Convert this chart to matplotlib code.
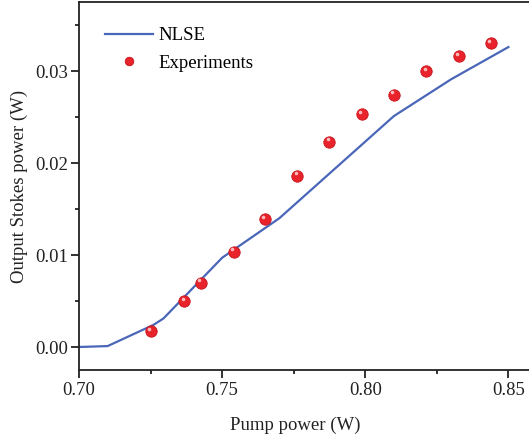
import matplotlib
matplotlib.use("Agg")
import matplotlib.pyplot as plt
import matplotlib.transforms as mtransforms
from matplotlib.ticker import MultipleLocator, FormatStrFormatter

plt.rcParams['font.family'] = ['Liberation Serif', 'DejaVu Serif']

# NLSE simulation curve
nlse_x = [0.700, 0.710, 0.726, 0.7295, 0.750, 0.770, 0.810, 0.830, 0.850]
nlse_y = [0.0000, 0.0001, 0.0024, 0.0031, 0.0097, 0.0140, 0.0251, 0.0291, 0.0326]

# experimental points
exp_x = [0.7252, 0.7368, 0.7425, 0.7540, 0.7650, 0.7763, 0.7875,
         0.7988, 0.8101, 0.8213, 0.8326, 0.8438]
exp_y = [0.0017, 0.0050, 0.0070, 0.01035, 0.0139, 0.0186, 0.0223,
         0.0253, 0.0274, 0.0300, 0.0316, 0.0330]

W, H = 529, 438
fig = plt.figure(figsize=(W / 100, H / 100), dpi=100)
# right spine falls just outside the picture, as in the original crop
ax = fig.add_axes([79 / W, (H - 370) / H, (537 - 79) / W, 368 / H])

line_color = '#4a66b8'
red = '#e8232b'

ax.plot(nlse_x, nlse_y, color=line_color, lw=1.6, label='NLSE', zorder=2)
ax.plot(exp_x, exp_y, 'o', ms=8.2, mfc=red, mec='#c8141c', mew=0.6,
        label='Experiments', zorder=3)
# little highlight to get the glossy ball look
hl = mtransforms.offset_copy(ax.transData, fig=fig, x=-1.2, y=1.8, units='points')
ax.plot(exp_x, exp_y, 'o', ms=2.6, mfc='#ffc8c8', mec='none', alpha=0.9,
        transform=hl, zorder=4)

ax.set_xlim(0.70, 0.86)
ax.set_ylim(-0.0025, 0.0375)
ax.xaxis.set_major_locator(MultipleLocator(0.05))
ax.xaxis.set_minor_locator(MultipleLocator(0.025))
ax.yaxis.set_major_locator(MultipleLocator(0.01))
ax.yaxis.set_minor_locator(MultipleLocator(0.005))
ax.xaxis.set_major_formatter(FormatStrFormatter('%.2f'))
ax.yaxis.set_major_formatter(FormatStrFormatter('%.2f'))

ax.tick_params(which='both', direction='out', width=1.3, labelsize=13.5, colors='#222222')
ax.tick_params(which='major', length=5.5)
ax.tick_params(which='minor', length=3)
ax.tick_params(axis='x', pad=3)
ax.tick_params(axis='y', pad=2)
for s in ax.spines.values():
    s.set_linewidth(1.3)
    s.set_color('#222222')

ax.set_xlabel('Pump power (W)', fontsize=13.5, color='#222222')
ax.set_ylabel('Output Stokes power (W)', fontsize=13.5, color='#222222')
ax.xaxis.set_label_coords((295 - 79) / (537 - 79), -(430 - 370) / 368, transform=ax.transAxes)
ax.yaxis.set_label_coords(-(79 - 28) / (537 - 79), 0.5, transform=ax.transAxes)
ax.xaxis.label.set_va('baseline')

leg = ax.legend(loc='upper left', bbox_to_anchor=((105 - 79) / (537 - 79), 1 - 25 / 368),
                frameon=False, fontsize=13.5, handlelength=2.55, handletextpad=0.3,
                borderpad=0, borderaxespad=0, labelspacing=0.55, markerscale=0.75)

fig.savefig('out.png', dpi=100)
